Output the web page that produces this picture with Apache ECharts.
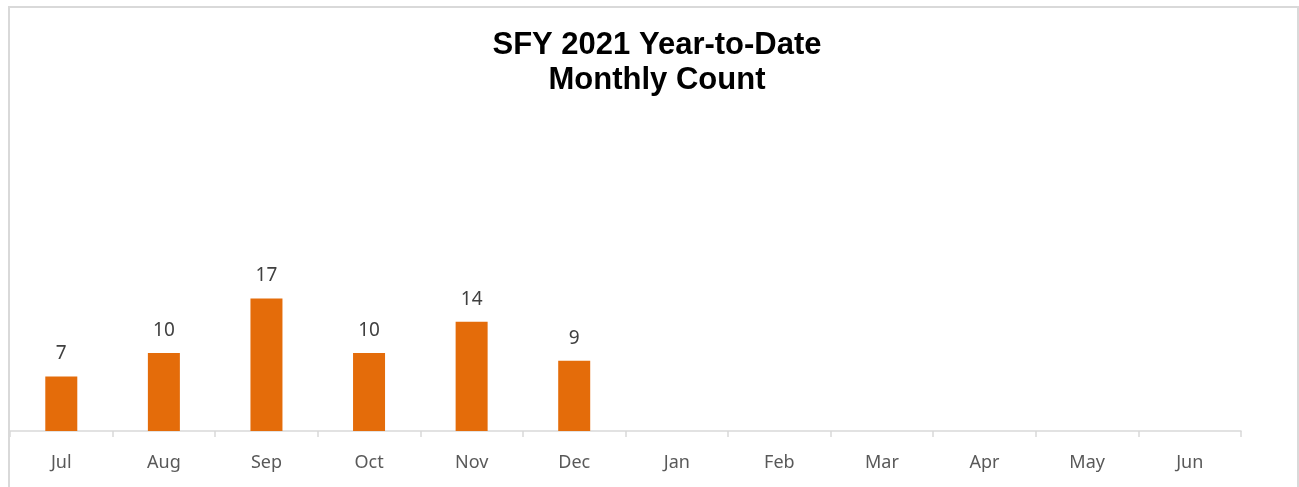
<!DOCTYPE html>
<html>
<head>
<meta charset="utf-8">
<script src="https://cdn.jsdelivr.net/npm/echarts@6/dist/echarts.min.js"></script>
<style>
  html, body { margin: 0; padding: 0; background: #ffffff; }
  #frame { position: absolute; left: 8px; top: 6px; width: 1291px; height: 481px;
           border-left: 2px solid #d9d9d9; border-top: 2px solid #d9d9d9; border-right: 2px solid #d9d9d9;
           box-sizing: border-box; }
  #chart { position: absolute; left: 0; top: 0; width: 1299px; height: 487px; }
</style>
</head>
<body>
<div id="frame"></div>
<div id="chart"></div>
<script>
// SFY 2021 months, July through June
const months = ['Jul', 'Aug', 'Sep', 'Oct', 'Nov', 'Dec', 'Jan', 'Feb', 'Mar', 'Apr', 'May', 'Jun'];
// Year-to-date counts (only Jul–Dec reported so far)
const counts = [7, 10, 17, 10, 14, 9, null, null, null, null, null, null];

const chart = echarts.init(document.getElementById('chart'), null, { renderer: 'canvas' });

chart.setOption({
  animation: false,
  title: {
    text: 'SFY 2021 Year-to-Date\nMonthly Count',
    left: 652,
    top: 23,
    textAlign: 'center',
    textStyle: {
      fontFamily: 'Liberation Sans, Arial, sans-serif',
      fontWeight: 'bold',
      fontSize: 31,
      lineHeight: 35,
      color: '#000000'
    }
  },
  grid: { left: 10, right: 58, top: 119, bottom: 56, containLabel: false },
  xAxis: {
    type: 'category',
    data: months,
    boundaryGap: true,
    axisLine: { lineStyle: { color: '#d9d9d9', width: 1.5 } },
    axisTick: { show: true, alignWithLabel: false, length: 6, lineStyle: { color: '#d9d9d9', width: 1.5 } },
    axisLabel: {
      margin: 23,
      color: '#595959',
      fontFamily: 'Noto Sans, sans-serif',
      fontSize: 18
    }
  },
  yAxis: {
    type: 'value',
    min: 0,
    max: 40,
    show: false,
    splitLine: { show: false }
  },
  series: [{
    type: 'bar',
    data: counts,
    barWidth: 32,
    itemStyle: { color: '#e46c0a' },
    label: {
      show: true,
      position: 'top',
      distance: 13,
      color: '#404040',
      fontFamily: 'Noto Sans, sans-serif',
      fontSize: 19
    }
  }]
});
</script>
</body>
</html>
